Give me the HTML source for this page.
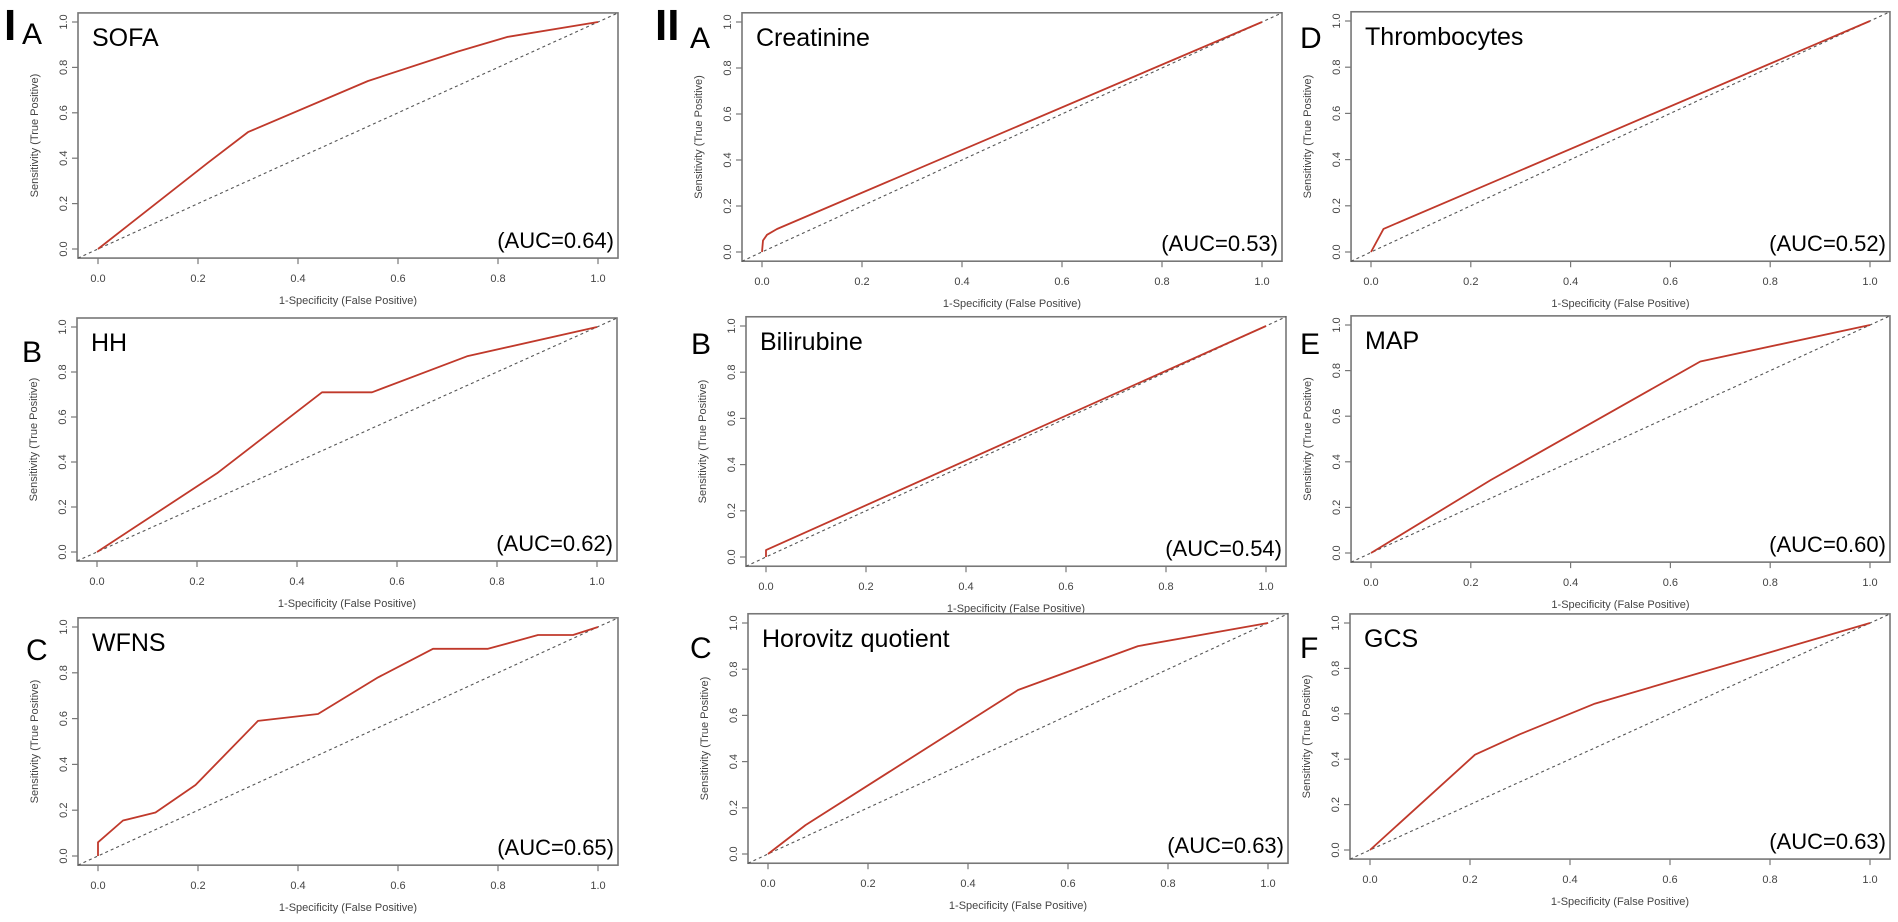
<!DOCTYPE html>
<html><head><meta charset="utf-8"><style>
html,body{margin:0;padding:0;background:#fff;}
svg{display:block;font-family:"Liberation Sans",Arial,sans-serif;}
</style></head><body>
<svg id="fig" width="1898" height="922" viewBox="0 0 1898 922" xmlns="http://www.w3.org/2000/svg">
<text x="4" y="40" font-size="44" font-weight="bold">I</text>
<text x="655" y="40" font-size="44" font-weight="bold">II</text>
</svg>
<script>
// ROC data (1-specificity, sensitivity)
const sofaX = [0, 0.22, 0.30, 0.54, 0.72, 0.82, 1];
const sofaY = [0, 0.38, 0.515, 0.74, 0.87, 0.935, 1];
const hhX = [0, 0.24, 0.45, 0.55, 0.74, 1];
const hhY = [0, 0.35, 0.71, 0.71, 0.87, 1];
const wfnsX = [0, 0, 0.05, 0.115, 0.195, 0.32, 0.44, 0.56, 0.67, 0.78, 0.88, 0.95, 1];
const wfnsY = [0, 0.06, 0.155, 0.19, 0.31, 0.59, 0.62, 0.78, 0.905, 0.905, 0.965, 0.965, 1];
const creaX = [0, 0.002, 0.01, 0.03, 1];
const creaY = [0, 0.05, 0.075, 0.1, 1];
const biliX = [0, 0, 1];
const biliY = [0, 0.03, 1];
const horoX = [0, 0.075, 0.5, 0.74, 1];
const horoY = [0, 0.125, 0.71, 0.9, 1];
const thrX = [0, 0.025, 1];
const thrY = [0, 0.1, 1];
const mapX = [0, 0.24, 0.66, 1];
const mapY = [0, 0.32, 0.84, 1];
const gcsX = [0, 0.21, 0.30, 0.45, 1];
const gcsY = [0, 0.42, 0.51, 0.645, 1];
const tickVals = [0, 0.2, 0.4, 0.6, 0.8, 1.0];
const tickLabels = ["0.0", "0.2", "0.4", "0.6", "0.8", "1.0"];
const panelTitles = ["SOFA","HH","WFNS","Creatinine","Bilirubine","Horovitz quotient","Thrombocytes","MAP","GCS"];
const panelLetters = ["A","B","C","A","B","C","D","E","F"];
const aucLabels = ["(AUC=0.64)","(AUC=0.62)","(AUC=0.65)","(AUC=0.53)","(AUC=0.54)","(AUC=0.63)","(AUC=0.52)","(AUC=0.60)","(AUC=0.63)"];

const NS = "http://www.w3.org/2000/svg";
const svg = document.getElementById('fig');
function mk(tag, attrs, parent){
  const e = document.createElementNS(NS, tag);
  for (const k in attrs) e.setAttribute(k, attrs[k]);
  parent.appendChild(e);
  return e;
}
// panel geometry: x0,x1 (pixel of 0 and 1), y0,y1, letter position
const geo = [
  {x0:98,x1:598,y0:249,y1:22,lx:22,ly:44},
  {x0:97,x1:597,y0:552,y1:327,lx:22,ly:362},
  {x0:98,x1:598,y0:856,y1:627,lx:26,ly:660},
  {x0:762,x1:1262,y0:252,y1:22,lx:690,ly:48},
  {x0:766,x1:1266,y0:557,y1:326,lx:691,ly:354},
  {x0:768,x1:1268,y0:854,y1:623,lx:690,ly:658},
  {x0:1371,x1:1870,y0:252,y1:21,lx:1300,ly:48},
  {x0:1371,x1:1870,y0:553,y1:325,lx:1300,ly:354},
  {x0:1370,x1:1870,y0:850,y1:623,lx:1300,ly:658}
];
const xs = [sofaX,hhX,wfnsX,creaX,biliX,horoX,thrX,mapX,gcsX];
const ys = [sofaY,hhY,wfnsY,creaY,biliY,horoY,thrY,mapY,gcsY];

geo.forEach((g,i)=>{
  const sx = v => g.x0 + v*(g.x1-g.x0);
  const sy = v => g.y0 + v*(g.y1-g.y0);
  const gEl = mk('g', {}, svg);
  
  
  const bl = sx(-0.04), br = sx(1.04), bt = sy(1.04), bb = sy(-0.04);
  const box = mk('rect', {x:bl,y:bt,width:br-bl,height:bb-bt,fill:'none',stroke:'#777','stroke-width':1.6}, gEl);
  
  
  // diagonal
  const diag = mk('line', {x1:sx(-0.04),y1:sy(-0.04),x2:sx(1.04),y2:sy(1.04),stroke:'#555','stroke-width':1.1,'stroke-dasharray':'3,3'}, gEl);
  
  
  // ticks
  tickVals.forEach((t,j)=>{
    mk('line',{x1:sx(t),y1:bb,x2:sx(t),y2:bb+6,stroke:'#777','stroke-width':1.2},gEl);
    const xl = mk('text',{x:sx(t),y:bb+24,'font-size':11,fill:'#444','text-anchor':'middle'},gEl);
    xl.textContent = tickLabels[j];
    
    
    mk('line',{x1:bl,y1:sy(t),x2:bl-6,y2:sy(t),stroke:'#777','stroke-width':1.2},gEl);
    const yl = mk('text',{x:bl-11,y:sy(t),'font-size':11,fill:'#444','text-anchor':'middle',transform:`rotate(-90 ${bl-11} ${sy(t)})`},gEl);
    yl.textContent = tickLabels[j];
    
    
  });
  const xt = mk('text',{x:(bl+br)/2,y:bb+46,'font-size':11,fill:'#444','text-anchor':'middle'},gEl);
  xt.textContent = '1-Specificity (False Positive)';
  
  
  const yx = bl-40, yy = (bt+bb)/2;
  const yt = mk('text',{x:yx,y:yy,'font-size':11,fill:'#444','text-anchor':'middle',transform:`rotate(-90 ${yx} ${yy})`},gEl);
  yt.textContent = 'Sensitivity (True Positive)';
  
  
  // curve
  const pts = xs[i].map((v,k)=>sx(v).toFixed(1)+','+sy(ys[i][k]).toFixed(1)).join(' ');
  const pl = mk('polyline',{points:pts,fill:'none',stroke:'#c0392b','stroke-width':1.8,'stroke-linejoin':'round'},gEl);
  
  
  const ti = mk('text',{x:bl+14,y:bt+33,'font-size':25,fill:'#000'},gEl);
  ti.textContent = panelTitles[i];
  
  
  const au = mk('text',{x:br-4,y:bb-10,'font-size':22,fill:'#000','text-anchor':'end'},gEl);
  au.textContent = aucLabels[i];
  
  
  const le = mk('text',{x:g.lx,y:g.ly,'font-size':30,fill:'#000'},gEl);
  le.textContent = panelLetters[i];
  
  
});
</script>
</body></html>
